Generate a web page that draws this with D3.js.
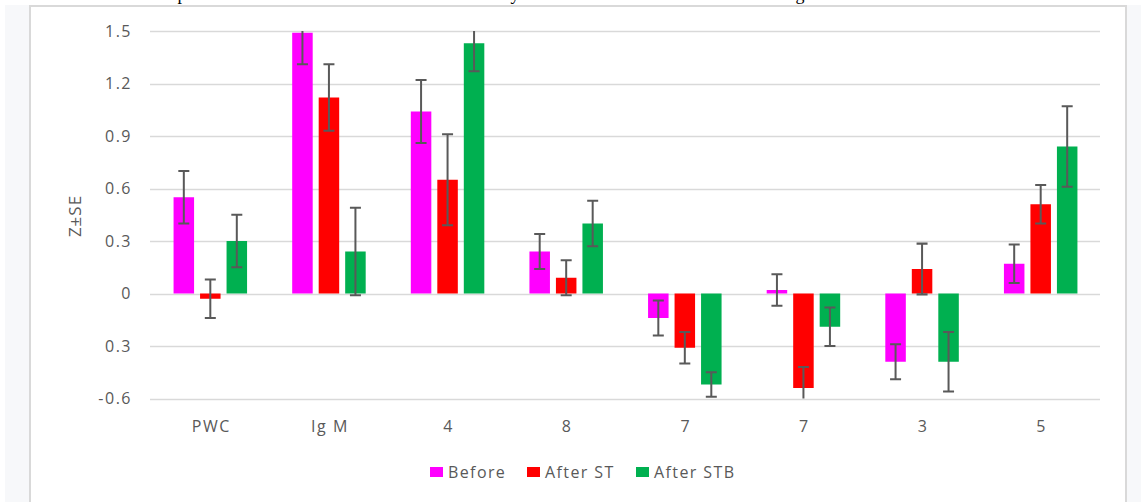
<!DOCTYPE html>
<html>
<head>
<meta charset="utf-8">
<script src="https://cdn.jsdelivr.net/npm/d3@7"></script>
<style>
  html, body { margin: 0; padding: 0; background: #ffffff; }
  svg { display: block; }
  .lbl { font-family: "Open Sans", sans-serif; fill: #595959; }
</style>
</head>
<body>
<svg id="chart" width="1141" height="502"></svg>
<script>
// Z-scores (mean ± SE) per measure, before and after training
const categories = ["PWC", "Ig M", "4", "8", "7", "7", "3", "5"];
const seriesNames = ["Before", "After ST", "After STB"];
const seriesColors = ["#ff00ff", "#ff0000", "#00b050"];

const before     = [0.55, 1.49, 1.04, 0.24, -0.14,  0.02, -0.39, 0.17];
const beforeSE   = [0.15, 0.18, 0.18, 0.10,  0.10,  0.09,  0.10, 0.11];
const afterST    = [-0.03, 1.12, 0.65, 0.09, -0.31, -0.54,  0.14, 0.51];
const afterSTSE  = [0.11, 0.19, 0.26, 0.10,  0.09,  0.12,  0.145, 0.11];
const afterSTB   = [0.30, 0.24, 1.43, 0.40, -0.52, -0.19, -0.39, 0.84];
const afterSTBSE = [0.15, 0.25, 0.16, 0.13,  0.07,  0.11,  0.17, 0.23];

const tickValues = [1.5, 1.2, 0.9, 0.6, 0.3, 0, -0.3, -0.6];
const tickLabels = ["1.5", "1.2", "0.9", "0.6", "0.3", "0", "0.3", "-0.6"];

const values = [before, afterST, afterSTB];
const errors = [beforeSE, afterSTSE, afterSTBSE];

const svg = d3.select("#chart");

// page frame
svg.append("rect").attr("x", 5).attr("y", 5).attr("width", 1136).attr("height", 497).attr("fill", "#f7f8fa");
svg.append("rect").attr("x", 30).attr("y", 6).attr("width", 1096).attr("height", 500)
  .attr("fill", "#ffffff").attr("stroke", "#d9d9d9").attr("stroke-width", 2);

// descenders of the caption line above the frame
[["p", 182], ["y", 515], ["g", 800]].forEach(([t, x]) => {
  svg.append("text").attr("x", x).attr("y", 0)
    .attr("font-family", "Liberation Serif, serif").attr("font-size", 18)
    .attr("fill", "#000").attr("text-anchor", "middle").text(t);
});

const plot = { left: 151, right: 1100, top: 31, bottom: 398.5 };

const y = d3.scaleLinear().domain([-0.6, 1.5]).range([plot.bottom, plot.top]);
const x0 = d3.scaleBand().domain(d3.range(categories.length)).range([plot.left, plot.right]).padding(0);
const x1 = d3.scaleBand().domain(d3.range(seriesNames.length)).range([0, 73.5]).paddingInner(0.226).paddingOuter(0);
const groupStart = i => x0(i) + x0.bandwidth() / 2 - 36.75;

// gridlines
svg.append("g").selectAll("line").data(tickValues).join("line")
  .attr("x1", plot.left - 1).attr("x2", plot.right)
  .attr("y1", d => Math.round(y(d)) + 0.5).attr("y2", d => Math.round(y(d)) + 0.5)
  .attr("stroke", "#d9d9d9").attr("stroke-width", 1.3);

// y tick labels
svg.append("g").selectAll("text").data(tickValues).join("text")
  .attr("class", "lbl")
  .attr("x", 132).attr("y", d => y(d) + 5.5)
  .attr("text-anchor", "end").attr("font-size", 16).attr("letter-spacing", 1.5)
  .text((d, i) => tickLabels[i]);

// y axis title
svg.append("text").attr("class", "lbl")
  .attr("transform", "translate(81,216) rotate(-90)")
  .attr("text-anchor", "middle").attr("font-size", 17).attr("letter-spacing", 1)
  .text("Z±SE");

// x category labels
svg.append("g").selectAll("text").data(categories).join("text")
  .attr("class", "lbl")
  .attr("x", (d, i) => x0(i) + x0.bandwidth() / 2 + 1).attr("y", 432)
  .attr("text-anchor", "middle").attr("font-size", 16).attr("letter-spacing", 1.5)
  .text(d => d);

const clip = svg.append("defs").append("clipPath").attr("id", "plotclip");
clip.append("rect").attr("x", plot.left).attr("y", plot.top).attr("width", plot.right - plot.left).attr("height", plot.bottom - plot.top);

// bars
const barData = [];
values.forEach((arr, s) => arr.forEach((v, i) => barData.push({ s, i, v, e: errors[s][i] })));

svg.append("g").attr("clip-path", "url(#plotclip)").selectAll("rect").data(barData).join("rect")
  .attr("x", d => groupStart(d.i) + x1(d.s))
  .attr("width", x1.bandwidth())
  .attr("y", d => y(Math.max(0, d.v)))
  .attr("height", d => Math.abs(y(d.v) - y(0)))
  .attr("fill", d => seriesColors[d.s]);

// error bars
const eg = svg.append("g").attr("clip-path", "url(#plotclip)");
barData.forEach(d => {
  const cx = groupStart(d.i) + x1(d.s) + x1.bandwidth() / 2;
  const hi = y(d.v + d.e), lo = y(d.v - d.e);
  eg.append("line").attr("x1", cx).attr("x2", cx).attr("y1", hi).attr("y2", lo)
    .attr("stroke", "#595959").attr("stroke-width", 2);
  [hi, lo].forEach(yy => {
    eg.append("line").attr("x1", cx - 5.5).attr("x2", cx + 5.5).attr("y1", yy).attr("y2", yy)
      .attr("stroke", "#595959").attr("stroke-width", 2.2);
  });
});

// legend
const legendX = [430, 527, 636];
const lg = svg.append("g");
seriesNames.forEach((name, s) => {
  lg.append("rect").attr("x", legendX[s]).attr("y", 467).attr("width", 13).attr("height", 10)
    .attr("fill", seriesColors[s]);
  lg.append("text").attr("class", "lbl")
    .attr("x", legendX[s] + 18).attr("y", 477.5)
    .attr("font-size", 16).attr("letter-spacing", 1.4)
    .text(name);
});
</script>
</body>
</html>
